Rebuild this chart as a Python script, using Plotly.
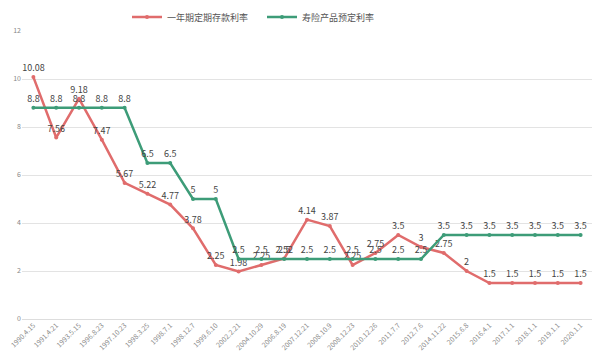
import plotly.graph_objects as go

dates = ["1990.4.15", "1991.4.21", "1993.5.15", "1996.8.23", "1997.10.23", "1998.3.25",
         "1998.7.1", "1998.12.7", "1999.6.10", "2002.2.21", "2004.10.29", "2006.8.19",
         "2007.12.21", "2008.10.9", "2008.12.23", "2010.12.26", "2011.7.7", "2012.7.6",
         "2014.11.22", "2015.6.8", "2016.4.1", "2017.1.1", "2018.1.1", "2019.1.1", "2020.1.1"]
deposit_rate = [10.08, 7.56, 9.18, 7.47, 5.67, 5.22, 4.77, 3.78, 2.25, 1.98, 2.25, 2.52,
                4.14, 3.87, 2.25, 2.75, 3.5, 3, 2.75, 2, 1.5, 1.5, 1.5, 1.5, 1.5]
insurance_rate = [8.8, 8.8, 8.8, 8.8, 8.8, 6.5, 6.5, 5, 5, 2.5, 2.5, 2.5, 2.5, 2.5, 2.5,
                  2.5, 2.5, 2.5, 3.5, 3.5, 3.5, 3.5, 3.5, 3.5, 3.5]

red = "#E06C6C"
green = "#3D9C78"
font_family = "Noto Sans CJK SC, Noto Sans, sans-serif"

W, H = 592, 351
L, R, T, B = 14, 8, 23, 40
plot_w = W - L - R
plot_h = H - T - B

fig = go.Figure()
fig.add_trace(go.Scatter(
    x=dates, y=deposit_rate, name="一年期定期存款利率",
    mode="lines+markers+text", text=[f"{v:g}" for v in deposit_rate],
    textposition="top center", textfont=dict(size=9, color="#444"),
    line=dict(color=red, width=2.5), marker=dict(size=4, color=red),
    cliponaxis=False,
))
fig.add_trace(go.Scatter(
    x=dates, y=insurance_rate, name="寿险产品预定利率",
    mode="lines+markers+text", text=[f"{v:g}" for v in insurance_rate],
    textposition="top center", textfont=dict(size=9, color="#444"),
    line=dict(color=green, width=2.5), marker=dict(size=4, color=green),
    cliponaxis=False,
))

fig.update_layout(
    width=W, height=H,
    margin=dict(l=L, r=R, t=T, b=B, autoexpand=False),
    paper_bgcolor="white", plot_bgcolor="white",
    font=dict(family=font_family, color="#666"),
    showlegend=True,
    legend=dict(orientation="h", x=(119 - L) / plot_w, xanchor="left",
                y=1 + 14 / plot_h, yanchor="middle",
                yref="paper", font=dict(size=9, color="#555"), itemwidth=30,
                entrywidthmode="pixels", entrywidth=90, bgcolor="rgba(0,0,0,0)"),
    xaxis=dict(type="category", tickangle=-45, tickfont=dict(size=7, color="#888"),
               showgrid=False, showline=False, ticks="", automargin=False,
               range=[-0.5, len(dates) - 0.5]),
    yaxis=dict(range=[0, 12], dtick=2, tickfont=dict(size=7, color="#888"),
               showgrid=True, gridcolor="#e3e3e3", gridwidth=1, zeroline=True,
               zerolinecolor="#dddddd", zerolinewidth=1, showline=False, ticks="",
               automargin=False),
)

fig.write_html("out.html")
